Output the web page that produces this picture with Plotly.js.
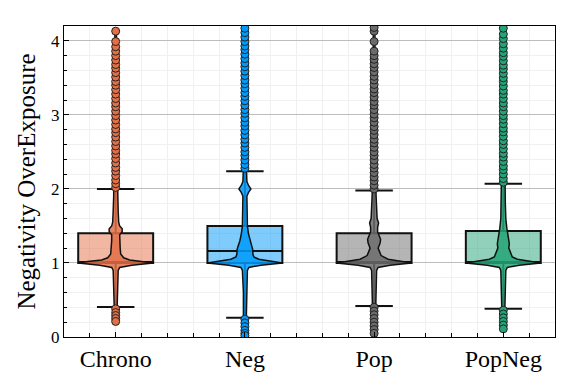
<!DOCTYPE html>
<html>
<head>
<meta charset="utf-8">
<script src="https://cdn.plot.ly/plotly-3.0.1.min.js"></script>
<style>
  html, body { margin: 0; padding: 0; background: #fff; }
  #plot { width: 581px; height: 388px; }
</style>
</head>
<body>
<div id="plot"></div>
<script>
// categories and colours
var cats = ["Chrono", "Neg", "Pop", "PopNeg"];
var colors = ["#E36F47", "#009AFA", "#6B6B6B", "#23A477"];

// box stats
var q1 = [1.0, 1.0, 1.0, 1.0];
var med = [1.0, 1.16, 1.0, 1.0];
var q3 = [1.4, 1.5, 1.4, 1.43];
var loFence = [0.405, 0.26, 0.42, 0.38];
var hiFence = [2.0, 2.24, 1.98, 2.07];

// violin outlines: levels and relative density
var chronoVY = [0.19, 0.4, 0.7, 0.9, 0.94, 0.97, 1.0, 1.02, 1.04, 1.07, 1.12, 1.2, 1.3, 1.38, 1.42, 1.46, 1.5, 1.55, 1.7, 1.9, 2.1, 2.5, 3.0, 3.5, 4.13];
var chronoVD = [1, 1.5, 2, 2.5, 4, 16, 37.5, 28, 14, 8, 5, 4.5, 4, 4, 6.5, 6.5, 4, 3, 2.5, 2, 1.5, 1.2, 1, 1, 0.8];
var negVY = [0.02, 0.26, 0.6, 0.9, 0.94, 0.97, 1.0, 1.02, 1.05, 1.08, 1.12, 1.17, 1.22, 1.3, 1.4, 1.5, 1.7, 1.9, 1.95, 2.0, 2.05, 2.1, 2.3, 3.0, 4.17];
var negVD = [1, 1.5, 1.5, 2.5, 4, 16, 37.5, 28, 14, 9, 8, 8, 7, 5, 3.5, 2.5, 2, 2, 3.5, 6, 3.5, 2, 1.5, 1, 0.8];
var popVY = [0.05, 0.42, 0.7, 0.9, 0.94, 0.97, 1.0, 1.02, 1.05, 1.1, 1.2, 1.27, 1.32, 1.37, 1.42, 1.48, 1.54, 1.6, 1.7, 1.9, 2.1, 3.0, 4.18];
var popVD = [1, 1.5, 2, 2.5, 4, 16, 37.5, 28, 14, 7, 4, 6, 6.5, 5, 3.5, 3.5, 4.5, 3, 2.5, 2, 1.5, 1, 0.8];
var popNegVY = [0.1, 0.37, 0.7, 0.9, 0.94, 0.97, 1.0, 1.02, 1.05, 1.08, 1.13, 1.2, 1.26, 1.32, 1.39, 1.47, 1.6, 1.8, 2.0, 2.2, 3.0, 4.17];
var popNegVD = [1, 1.5, 2, 2.5, 4, 16, 37.5, 28, 14, 9, 7.5, 5.5, 6, 5, 4.5, 3.5, 2.5, 2, 1.8, 1.5, 1, 0.8];

// outliers
var chronoOut = [0.38, 0.33, 0.29, 0.25, 0.21,
  2.02, 2.07, 2.12, 2.18, 2.24, 2.29, 2.35, 2.41, 2.47, 2.52, 2.58, 2.64, 2.7, 2.76, 2.81, 2.87,
  2.93, 2.99, 3.05, 3.11, 3.16, 3.22, 3.28, 3.34, 3.4, 3.45, 3.51, 3.57, 3.63, 3.68, 3.74, 3.8,
  3.86, 3.92, 3.99, 4.13];
var negOut = [0.24, 0.19, 0.14, 0.09, 0.05, 0.02,
  2.28, 2.33, 2.39, 2.45, 2.5, 2.56, 2.62, 2.67, 2.73, 2.79, 2.85, 2.9, 2.96, 3.02, 3.07, 3.13,
  3.19, 3.25, 3.3, 3.36, 3.42, 3.47, 3.53, 3.59, 3.65, 3.7, 3.76, 3.82, 3.88, 3.93, 3.99, 4.05,
  4.11, 4.17];
var popOut = [0.4, 0.35, 0.3, 0.25, 0.2, 0.15, 0.1, 0.05,
  2.0, 2.05, 2.11, 2.16, 2.22, 2.28, 2.33, 2.39, 2.45, 2.5, 2.56, 2.62, 2.67, 2.73, 2.79, 2.84,
  2.9, 2.96, 3.01, 3.07, 3.13, 3.18, 3.24, 3.3, 3.35, 3.41, 3.47, 3.52, 3.58, 3.64, 3.69, 3.75,
  3.8, 3.86, 3.99, 4.13, 4.18];
var popNegOut = [0.36, 0.31, 0.26, 0.21, 0.16, 0.11,
  2.09, 2.14, 2.2, 2.26, 2.31, 2.37, 2.43, 2.48, 2.54, 2.6, 2.65, 2.71, 2.77, 2.82, 2.88, 2.94,
  2.99, 3.05, 3.11, 3.16, 3.22, 3.28, 3.33, 3.39, 3.45, 3.5, 3.56, 3.62, 3.67, 3.73, 3.79, 3.84,
  3.9, 3.96, 4.03, 4.09, 4.17];

var violinY = [chronoVY, negVY, popVY, popNegVY];
var violinD = [chronoVD, negVD, popVD, popNegVD];
var outliers = [chronoOut, negOut, popOut, popNegOut];

function rgba(hex, a) {
  var r = parseInt(hex.slice(1, 3), 16), g = parseInt(hex.slice(3, 5), 16), b = parseInt(hex.slice(5, 7), 16);
  return "rgba(" + r + "," + g + "," + b + "," + a + ")";
}

var boxW = 0.58;
var traces = [];

// boxes
cats.forEach(function(c, i) {
  traces.push({
    type: "box", x: [i], q1: [q1[i]], median: [med[i]], q3: [q3[i]],
    lowerfence: [loFence[i]], upperfence: [hiFence[i]],
    width: boxW, whiskerwidth: 0.5, boxpoints: false,
    fillcolor: rgba(colors[i], 0.5),
    line: {color: "#111", width: 2},
    hoverinfo: "skip", showlegend: false
  });
});

// violins
cats.forEach(function(c, i) {
  var ys = violinY[i], ds = violinD[i];
  var peak = Math.max.apply(null, ds);
  var xs = [], yy = [];
  for (var k = 0; k < ys.length; k++) { xs.push(i + ds[k] / peak * boxW / 2); yy.push(ys[k]); }
  for (var k = ys.length - 1; k >= 0; k--) { xs.push(i - ds[k] / peak * boxW / 2); yy.push(ys[k]); }
  xs.push(xs[0]); yy.push(yy[0]);
  traces.push({
    type: "scatter", mode: "lines", x: xs, y: yy, fill: "toself",
    fillcolor: rgba(colors[i], 0.85),
    line: {color: "#111", width: 1.5},
    hoverinfo: "skip", showlegend: false
  });
});

// outlier points
cats.forEach(function(c, i) {
  traces.push({
    type: "scatter", mode: "markers",
    x: outliers[i].map(function() { return i; }), y: outliers[i],
    marker: {size: 8, color: colors[i], line: {color: "#222", width: 1}},
    hoverinfo: "skip", showlegend: false
  });
});

var layout = {
  width: 581, height: 388,
  margin: {l: 64, r: 26, t: 26, b: 51},
  paper_bgcolor: "#fff", plot_bgcolor: "#fff",
  boxmode: "overlay",
  font: {family: "Liberation Serif, serif", color: "#000"},
  xaxis: {
    range: [-0.4, 3.4], tickvals: [0, 1, 2, 3], ticktext: cats,
    tickfont: {size: 24}, ticks: "inside", ticklen: 5, tickcolor: "#000",
    showline: true, linecolor: "#000", linewidth: 1, mirror: true,
    showgrid: true, gridcolor: "#ececec", gridwidth: 1, zeroline: false,
    minor: {dtick: 0.2, tick0: 0, ticks: "inside", ticklen: 4, tickcolor: "#000", showgrid: true, gridcolor: "#f0f0f0"}
  },
  yaxis: {
    range: [0, 4.2], tickvals: [0, 1, 2, 3, 4],
    tickfont: {size: 17}, ticks: "inside", ticklen: 5, tickcolor: "#000",
    showline: true, linecolor: "#000", linewidth: 1, mirror: true,
    showgrid: true, gridcolor: "#bdbdbd", gridwidth: 1, zeroline: false,
    minor: {dtick: 0.2, tick0: 0, ticks: "inside", ticklen: 3, tickcolor: "#000", showgrid: true, gridcolor: "#f0f0f0"},
    title: {text: "Negativity OverExposure", font: {size: 25}, standoff: 8}
  }
};

Plotly.newPlot("plot", traces, layout, {displayModeBar: false, staticPlot: true});
</script>
</body>
</html>
